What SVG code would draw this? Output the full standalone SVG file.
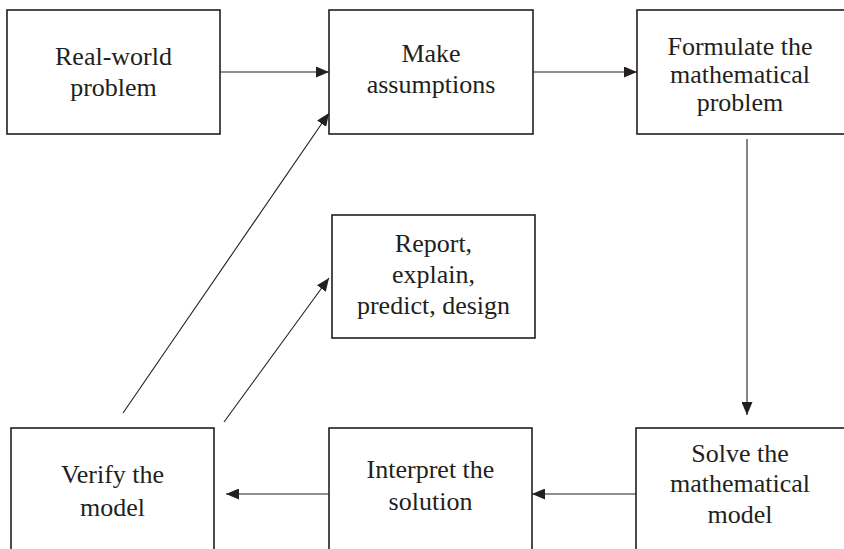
<svg xmlns="http://www.w3.org/2000/svg" width="844" height="549" viewBox="0 0 844 549">
<style>
.box{fill:#fff;stroke:#231f20;stroke-width:1.6}
.lbl{font-family:"Liberation Serif","Times New Roman",serif;font-size:26px;fill:#231f20;text-anchor:middle}
.conn{stroke:#231f20;stroke-width:1.1;fill:none;marker-end:url(#ah)}
</style>
<defs>
<marker id="ah" markerUnits="userSpaceOnUse" markerWidth="13" markerHeight="11" refX="13" refY="5.5" orient="auto">
<path d="M0,0 L13,5.5 L0,11 z" fill="#231f20"/>
</marker>
</defs>
<rect width="844" height="549" fill="#fff"/>
<g id="connectors">
<line class="conn" x1="220" y1="72" x2="329" y2="72"/>
<line class="conn" x1="533" y1="72" x2="637" y2="72"/>
<line class="conn" x1="747" y1="139" x2="747" y2="415"/>
<line class="conn" x1="636" y1="494" x2="532" y2="494"/>
<line class="conn" x1="329" y1="494" x2="226" y2="494"/>
<line class="conn" x1="123" y1="413" x2="329" y2="113"/>
<line class="conn" x1="224" y1="422" x2="329" y2="278"/>
</g>
<g id="n1">
<rect class="box" x="7" y="10" width="213" height="124"/>
<text class="lbl" x="113.5" y="65">Real-world</text>
<text class="lbl" x="113.5" y="96">problem</text>
</g>
<g id="n2">
<rect class="box" x="329" y="10" width="204" height="124"/>
<text class="lbl" x="431" y="62">Make</text>
<text class="lbl" x="431" y="93">assumptions</text>
</g>
<g id="n3">
<rect class="box" x="637" y="10" width="210" height="124"/>
<text class="lbl" x="740" y="55">Formulate the</text>
<text class="lbl" x="740" y="83">mathematical</text>
<text class="lbl" x="740" y="111">problem</text>
</g>
<g id="n4">
<rect class="box" x="332" y="215" width="203" height="123"/>
<text class="lbl" x="433.5" y="252">Report,</text>
<text class="lbl" x="433.5" y="283">explain,</text>
<text class="lbl" x="433.5" y="314">predict, design</text>
</g>
<g id="n5">
<rect class="box" x="11" y="428" width="203" height="140"/>
<text class="lbl" x="112.5" y="483">Verify the</text>
<text class="lbl" x="112.5" y="516">model</text>
</g>
<g id="n6">
<rect class="box" x="329" y="428" width="203" height="140"/>
<text class="lbl" x="430.5" y="478">Interpret the</text>
<text class="lbl" x="430.5" y="510">solution</text>
</g>
<g id="n7">
<rect class="box" x="636" y="428" width="211" height="140"/>
<text class="lbl" x="740" y="462">Solve the</text>
<text class="lbl" x="740" y="492">mathematical</text>
<text class="lbl" x="740" y="523">model</text>
</g>
</svg>
